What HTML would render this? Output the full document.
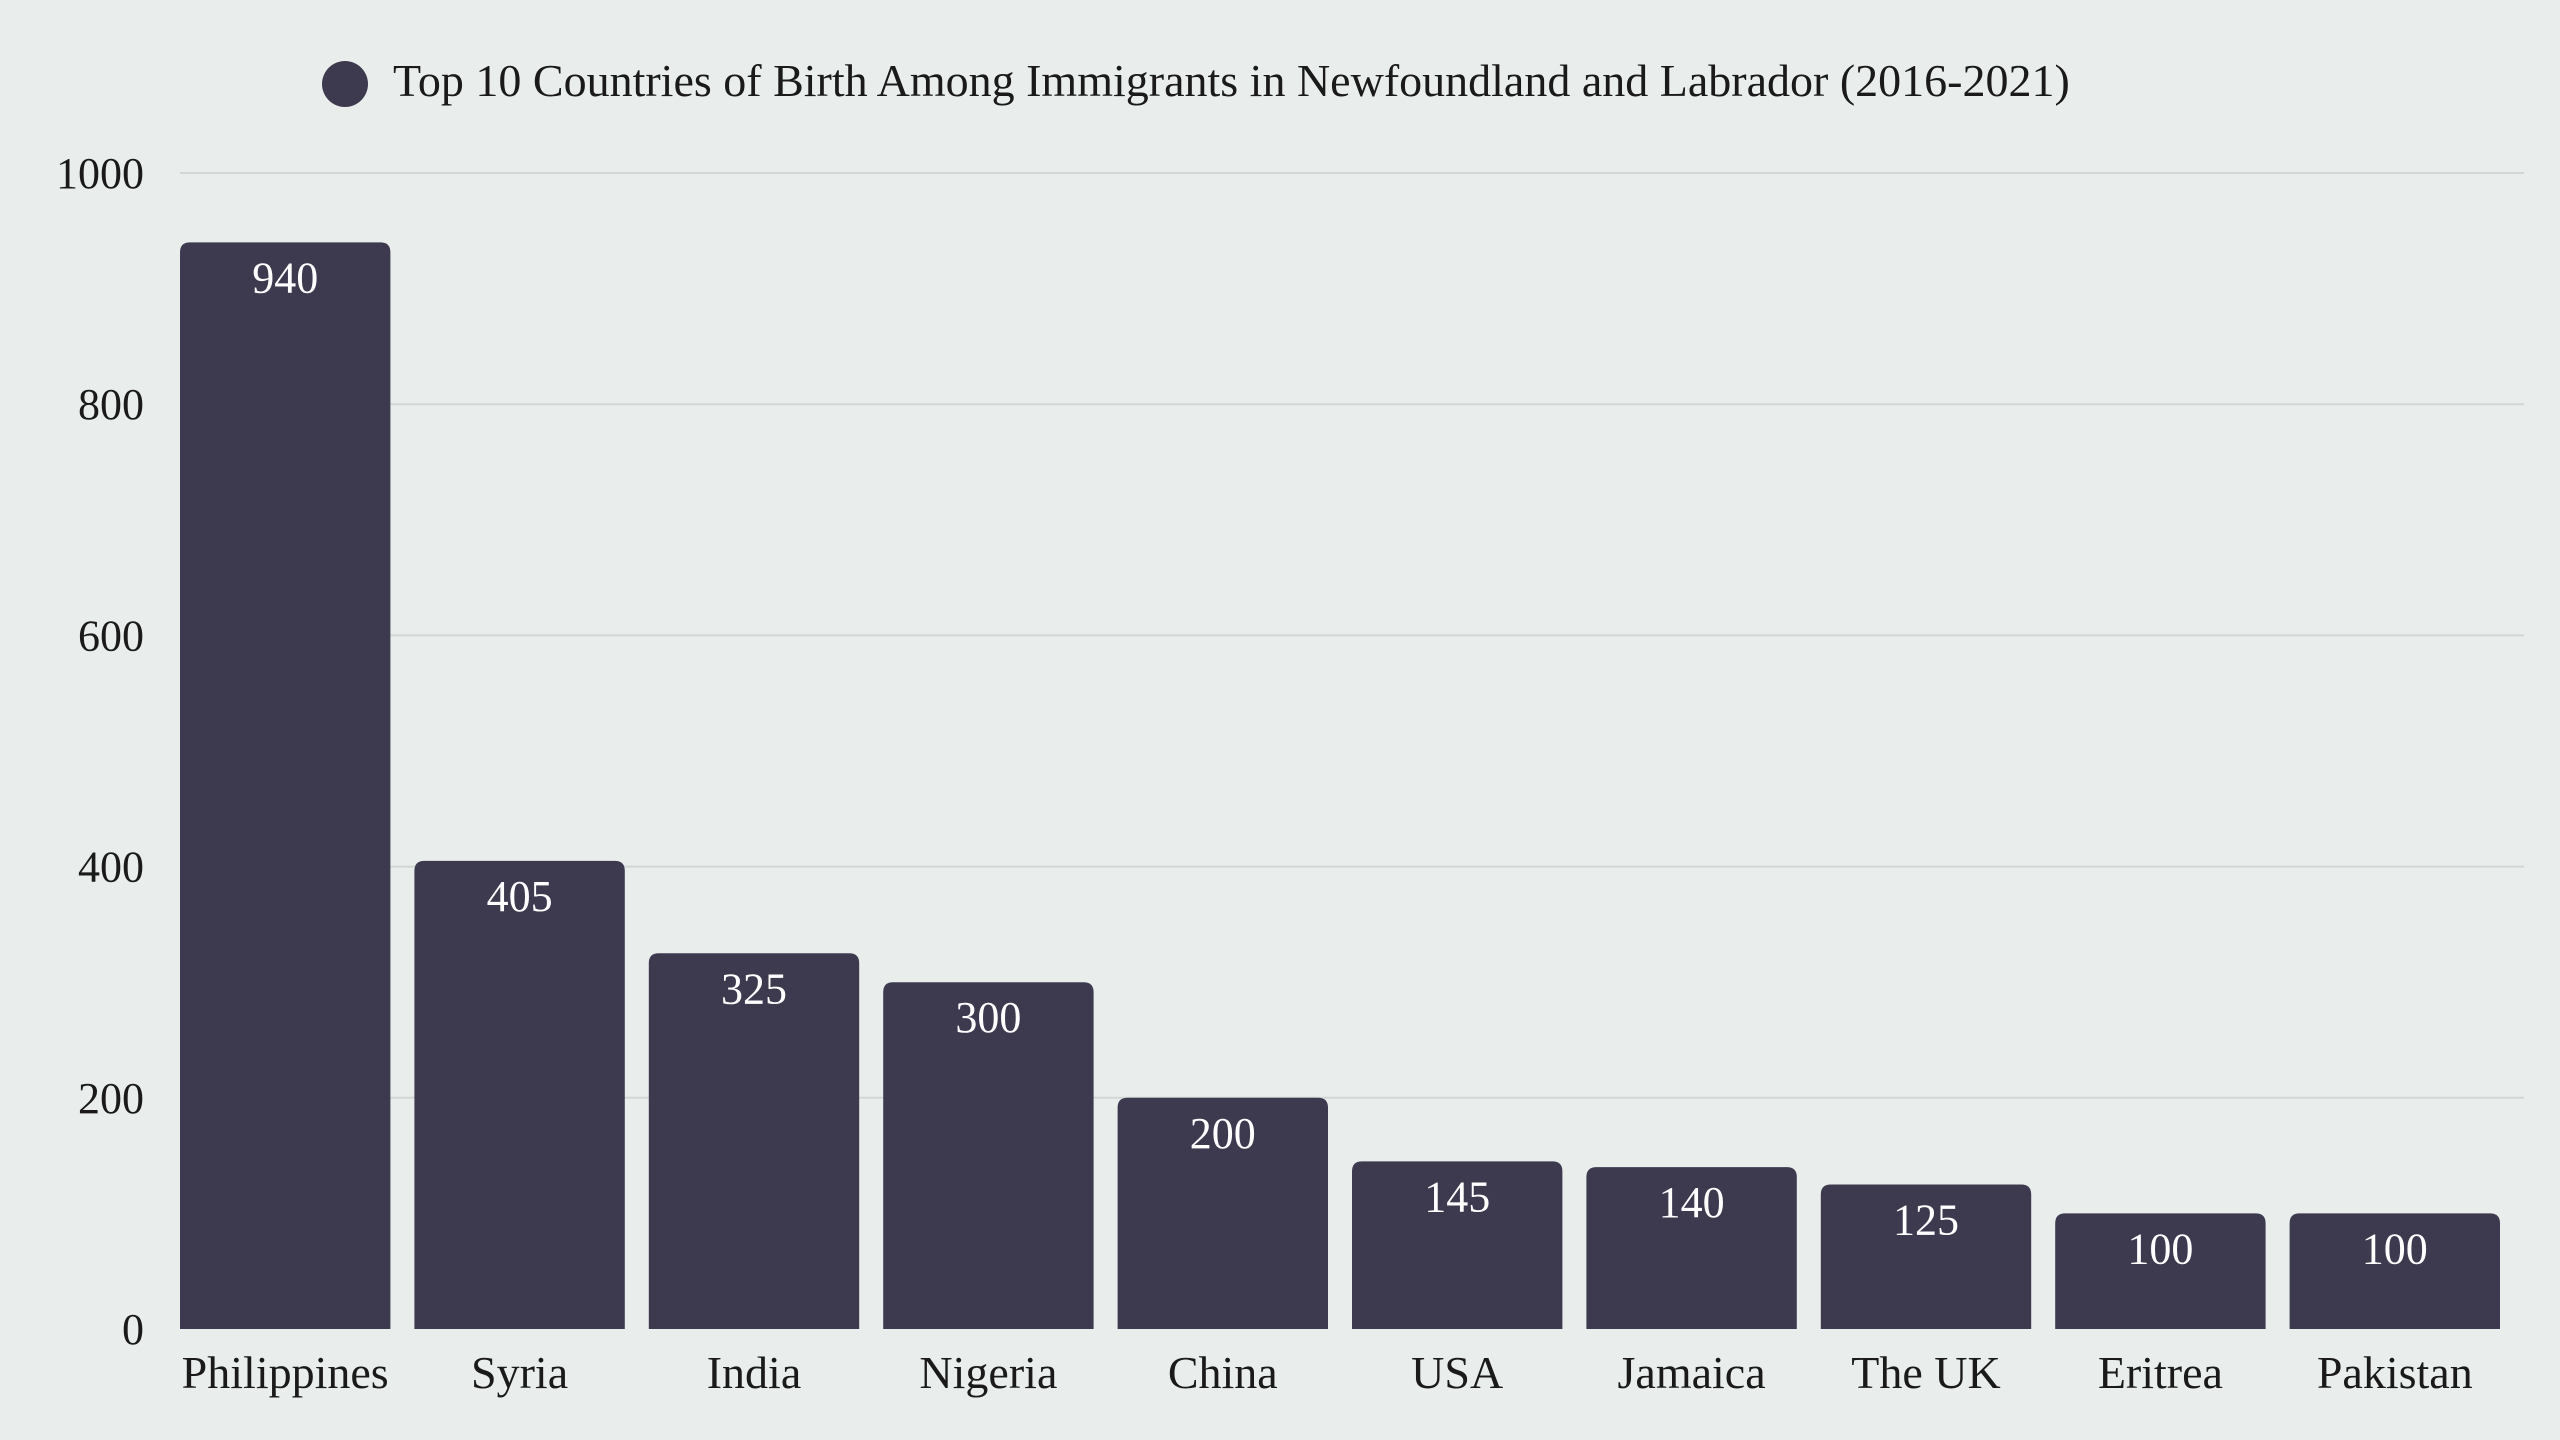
<!DOCTYPE html>
<html><head><meta charset="utf-8"><style>
html,body{margin:0;padding:0;background:#e9eeec;}
svg{display:block;font-family:"Liberation Serif",serif;}
</style></head><body>
<svg id="chart" width="2560" height="1440" viewBox="0 0 2560 1440">
<rect width="2560" height="1440" fill="#e9eeec"/>
<g>
<circle cx="345" cy="84" r="23" fill="#3d3a50"/>
<text x="393" y="96" font-size="46" fill="#1a1a1a">Top 10 Countries of Birth Among Immigrants in Newfoundland and Labrador (2016-2021)</text>
</g>
<g id="grid"></g><g id="yticks"></g><g id="bars"></g><g id="xlabels"></g>
</svg>
<script>
const categories=["Philippines","Syria","India","Nigeria","China","USA","Jamaica","The UK","Eritrea","Pakistan"];
const values=[940,405,325,300,200,145,140,125,100,100];
const yTicks=[0,200,400,600,800,1000];
const NS="http://www.w3.org/2000/svg";
const plotL=180,plotR=2524,y0=1329,y1=173,yMax=1000;
const y=v=>y0-(v/yMax)*(y0-y1);
const pitch=(plotR-plotL)/categories.length, bw=pitch-24;
const x=i=>plotL+i*pitch;
function mk(tag,attrs,parent){const e=document.createElementNS(NS,tag);for(const k in attrs)e.setAttribute(k,attrs[k]);parent.appendChild(e);return e;}
const grid=document.getElementById('grid'),yt=document.getElementById('yticks'),bars=document.getElementById('bars'),xl=document.getElementById('xlabels');
yTicks.forEach(t=>{
 if(t>0){const l=mk('line',{x1:plotL,x2:plotR,y1:y(t),y2:y(t),stroke:'#d2d7d5','stroke-width':2},grid);
 
 }
 const tx=mk('text',{x:144,y:y(t)+15,'text-anchor':'end','font-size':44,fill:'#1a1a1a'},yt);
 tx.textContent=t;
 
 
});
categories.forEach((c,i)=>{
 const top=y(values[i]),h=y0-top,r=10;
 const bx=x(i);
 const p=mk('path',{d:`M${bx},${y0}V${top+r}Q${bx},${top} ${bx+r},${top}H${bx+bw-r}Q${bx+bw},${top} ${bx+bw},${top+r}V${y0}Z`,fill:'#3d3a50'},bars);
 
 
 const v=mk('text',{x:bx+bw/2,y:top+50,'text-anchor':'middle','font-size':44,fill:'#ffffff'},bars);
 v.textContent=values[i];
 
 
 const l=mk('text',{x:bx+bw/2,y:1388,'text-anchor':'middle','font-size':46,fill:'#1a1a1a'},xl);
 l.textContent=c;
 
 
});
</script>
</body></html>
